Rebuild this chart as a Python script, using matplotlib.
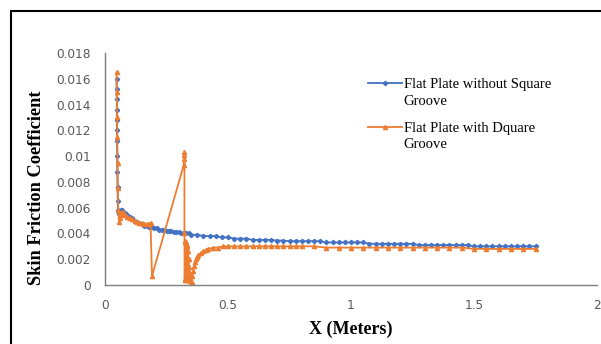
import matplotlib
matplotlib.use("Agg")
from matplotlib import pyplot as plt
from matplotlib.patches import Rectangle

# Flat plate without groove (blue)
x_plain = [0.047, 0.047, 0.048, 0.048, 0.048, 0.049, 0.049, 0.050, 0.050, 0.051,
           0.052, 0.053, 0.055, 0.058, 0.062, 0.066, 0.070, 0.075, 0.080, 0.085,
           0.090, 0.100, 0.110, 0.120, 0.130, 0.140, 0.150, 0.160, 0.170, 0.180,
           0.190, 0.200, 0.210, 0.220, 0.230, 0.240, 0.250, 0.260, 0.270, 0.280,
           0.290, 0.300, 0.310, 0.320, 0.330, 0.340, 0.350, 0.375, 0.400, 0.425,
           0.450, 0.475, 0.500, 0.525, 0.550, 0.575, 0.600, 0.625, 0.650, 0.675,
           0.700, 0.725, 0.750, 0.775, 0.800, 0.825, 0.850, 0.875, 0.900, 0.925,
           0.950, 0.975, 1.000, 1.025, 1.050, 1.075, 1.100, 1.125, 1.150, 1.175,
           1.200, 1.225, 1.250, 1.275, 1.300, 1.325, 1.350, 1.375, 1.400, 1.425,
           1.450, 1.475, 1.500, 1.525, 1.550, 1.575, 1.600, 1.625, 1.650, 1.675,
           1.700, 1.725, 1.750]
y_plain = [0.0160, 0.0152, 0.0144, 0.0136, 0.0128, 0.0120, 0.0112, 0.0100, 0.0088, 0.0076,
           0.0065, 0.0058, 0.0055, 0.0056, 0.0057, 0.0058, 0.0058, 0.0057, 0.0056, 0.0055,
           0.0054, 0.0053, 0.0052, 0.0050, 0.0049, 0.0048, 0.0047, 0.0046, 0.0046, 0.0045,
           0.0045, 0.0044, 0.0044, 0.0043, 0.0043, 0.0043, 0.0042, 0.0042, 0.0042, 0.0041,
           0.0041, 0.0041, 0.0040, 0.0040, 0.0040, 0.0040, 0.0039, 0.0039, 0.0038, 0.0038,
           0.0038, 0.0037, 0.0037, 0.0036, 0.0036, 0.0036, 0.0035, 0.0035, 0.0035, 0.0035,
           0.00345, 0.00345, 0.0034, 0.0034, 0.0034, 0.0034, 0.0034, 0.0034, 0.0033, 0.0033,
           0.0033, 0.0033, 0.0033, 0.0033, 0.0033, 0.0032, 0.0032, 0.0032, 0.0032, 0.0032,
           0.0032, 0.0032, 0.0032, 0.0031, 0.0031, 0.0031, 0.0031, 0.0031, 0.0031, 0.0031,
           0.0031, 0.0031, 0.0030, 0.0030, 0.0030, 0.0030, 0.0030, 0.0030, 0.0030, 0.0030,
           0.0030, 0.0030, 0.0030]

# Flat plate with groove (orange)
x_groove = [0.047, 0.048, 0.049, 0.050, 0.051, 0.052, 0.054, 0.057, 0.060, 0.063,
            0.067, 0.072, 0.077, 0.082, 0.090, 0.100, 0.110, 0.120, 0.130, 0.140,
            0.150, 0.160, 0.170, 0.180, 0.185, 0.191, 0.320, 0.321, 0.322, 0.323,
            0.323, 0.324, 0.325, 0.326, 0.327, 0.328, 0.329, 0.330, 0.331, 0.332,
            0.333, 0.334, 0.335, 0.336, 0.338, 0.340, 0.342, 0.344, 0.346, 0.349,
            0.352, 0.355, 0.358, 0.362, 0.366, 0.370, 0.375, 0.380, 0.390, 0.400,
            0.410, 0.420, 0.440, 0.460, 0.480, 0.500, 0.525, 0.550, 0.575, 0.600,
            0.625, 0.650, 0.675, 0.700, 0.725, 0.750, 0.775, 0.800, 0.850, 0.900,
            0.950, 1.000, 1.050, 1.100, 1.150, 1.200, 1.250, 1.300, 1.350, 1.400,
            1.450, 1.500, 1.550, 1.600, 1.650, 1.700, 1.750]
y_groove = [0.0165, 0.0150, 0.0130, 0.0115, 0.0095, 0.0075, 0.0058, 0.0049, 0.0052, 0.0054,
            0.0056, 0.0057, 0.0055, 0.0054, 0.0053, 0.0052, 0.0051, 0.0050, 0.0049, 0.0048,
            0.0048, 0.0047, 0.0047, 0.0047, 0.0048, 0.0007, 0.0093, 0.0098, 0.0103, 0.0101,
            0.0040, 0.0004, 0.0033, 0.0005, 0.0034, 0.0004, 0.0033, 0.0006, 0.0032, 0.0005,
            0.0031, 0.0008, 0.0030, 0.0012, 0.0026, 0.0020, 0.0014, 0.0008, 0.0003, 0.0000,
            0.0002, 0.0007, 0.0011, 0.0015, 0.0018, 0.0020, 0.0022, 0.0023, 0.0025, 0.0026,
            0.0027, 0.0028, 0.0029, 0.0029, 0.0030, 0.0030, 0.0030, 0.0030, 0.0030, 0.0030,
            0.0030, 0.0030, 0.0030, 0.0030, 0.0030, 0.0030, 0.0030, 0.0030, 0.0030, 0.0029,
            0.0029, 0.0029, 0.0029, 0.0029, 0.0029, 0.0029, 0.0029, 0.0029, 0.0029, 0.0029,
            0.0029, 0.0028, 0.0028, 0.0028, 0.0028, 0.0028, 0.0028]

x_ticks = [0, 0.5, 1, 1.5, 2]
x_labels = ["0", "0.5", "1", "1.5", "2"]
y_ticks = [0, 0.002, 0.004, 0.006, 0.008, 0.01, 0.012, 0.014, 0.016, 0.018]
y_labels = ["0", "0.002", "0.004", "0.006", "0.008", "0.01", "0.012", "0.014", "0.016", "0.018"]

BLUE = "#4472C4"
ORANGE = "#ED7D31"
SERIF = "Liberation Serif"

fig = plt.figure(figsize=(6.01, 3.44), dpi=100)
ax = fig.add_axes([105 / 601, 1 - 285 / 344, 492 / 601, 232 / 344])

ax.plot(x_plain, y_plain, color=BLUE, lw=1.3, marker="D", ms=2.2,
        label="Flat Plate without Square")
ax.plot(x_groove, y_groove, color=ORANGE, lw=1.3, marker="^", ms=3,
        label="Flat Plate with Dquare")

ax.set_xlim(0, 2)
ax.set_ylim(0, 0.018)
ax.set_xticks(x_ticks, x_labels)
ax.set_yticks(y_ticks, y_labels)
ax.tick_params(length=0, labelsize=8.7, labelcolor="#595959")
ax.tick_params(axis="y", pad=10)
ax.tick_params(axis="x", pad=10)
for side in ["top", "right"]:
    ax.spines[side].set_visible(False)
for side in ["left", "bottom"]:
    ax.spines[side].set_color("#7f7f7f")
    ax.spines[side].set_linewidth(1.0)

ax.set_xlabel("X (Meters)", family=SERIF, weight="bold", fontsize=13, labelpad=6)
ax.set_ylabel("Skin Friction Coefficient", family=SERIF, weight="bold", fontsize=13.2)
ax.yaxis.set_label_coords(-0.122, 0.418)

# legend: first line of each label next to the handle, wrapped word below
leg = ax.legend(loc="upper left", bbox_to_anchor=(368 / 601, 1 - 78 / 344),
                bbox_transform=fig.transFigure, frameon=False, borderpad=0,
                borderaxespad=0, handlelength=2.3, handletextpad=0.2,
                labelspacing=2.1, prop={"family": SERIF, "size": 10.5})
for ypix in [101, 144]:
    fig.text(403.5 / 601, 1 - ypix / 344, "Groove", family=SERIF, fontsize=10.5,
             va="center", ha="left")

fig.add_artist(Rectangle((11 / 601, -0.1), 1.2, 1 - 11 / 344 + 0.1, transform=fig.transFigure,
                         fill=False, edgecolor="black", linewidth=1.5, clip_on=False))

fig.savefig("out.png", dpi=100)
